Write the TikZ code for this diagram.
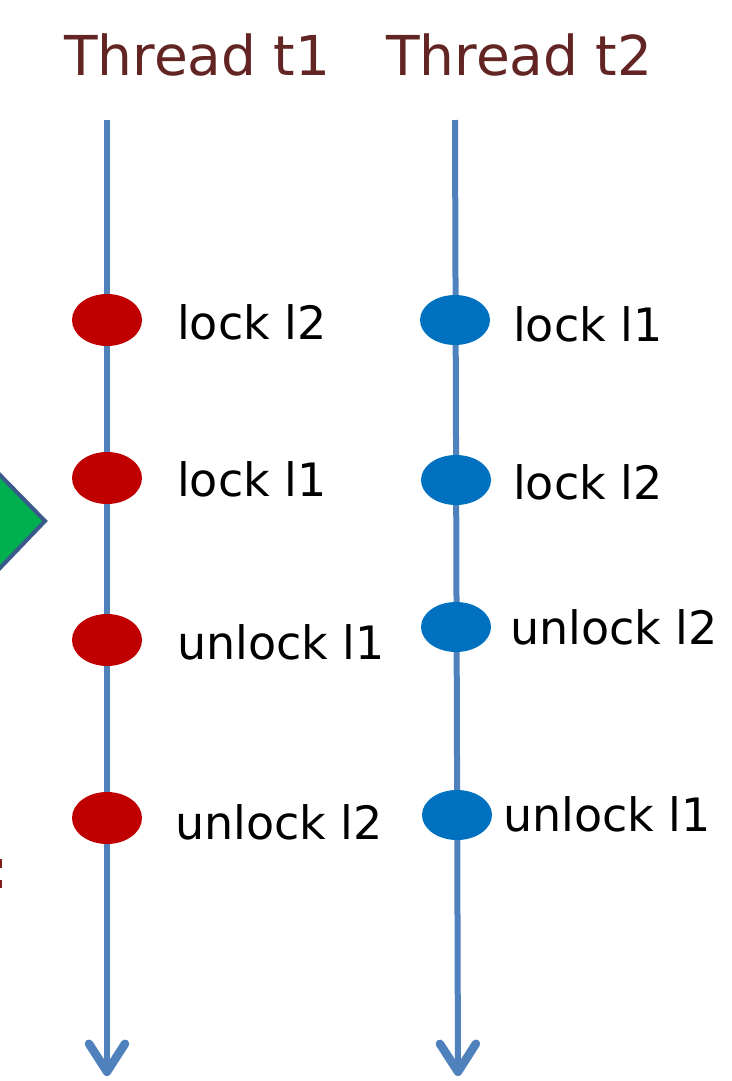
\documentclass[tikz,border=0pt]{standalone}
\usepackage{fontspec}
\setmainfont{DejaVu Sans}
\usetikzlibrary{shapes.geometric,arrows.meta}
\definecolor{axisblue}{HTML}{4F81BD}
\definecolor{dotred}{HTML}{C00000}
\definecolor{dotblue}{HTML}{0070C0}
\definecolor{titlered}{HTML}{632523}
\definecolor{diagreen}{HTML}{00B050}
\definecolor{diaborder}{HTML}{3A5A8C}
\tikzset{
  timeline/.style={draw=axisblue, line width=6pt, -{Straight Barb[length=28pt, width=36pt, line width=8.5pt, round]}},
  reddot/.style={ellipse, fill=dotred, minimum width=70pt, minimum height=52pt, inner sep=0pt},
  bluedot/.style={ellipse, fill=dotblue, minimum width=70pt, minimum height=50pt, inner sep=0pt},
  lbl/.style={anchor=base west, inner sep=0pt, font=\fontsize{46}{50}\selectfont},
  ttl/.style={anchor=base west, inner sep=0pt, text=titlered, font=\fontsize{55}{60}\selectfont},
}
\begin{document}
\begin{tikzpicture}[x=1pt,y=-1pt]
\useasboundingbox (0,0) rectangle (731,1081);
\clip (0,0) rectangle (731,1081);
% partial green diamond at left edge
\path[fill=diagreen, draw=diaborder, line width=4pt, line join=miter] (-50,521) -- (0,475) -- (45,521) -- (0,568) -- cycle;
% partial red fragment at left edge
\draw[titlered!80!red, line width=2.5pt] (0.5,859) -- (0.5,868) (0.5,880) -- (0.5,888);
% titles
\node[ttl] (t1) at (64,75) {Thread t1};
\node[ttl] (t2) at (386,75) {Thread t2};
% timelines
\coordinate (a1) at (107,120);
\coordinate (b1) at (107,1076);
\coordinate (a2) at (455,120);
\coordinate (b2) at (458,1076);
\draw[timeline] (a1) -- (b1);
\draw[timeline] (a2) -- (b2);
% thread 1 events
\node[reddot] (r1) at (107,320) {};
\node[reddot] (r2) at (107,478) {};
\node[reddot] (r3) at (107,640) {};
\node[reddot] (r4) at (107,818) {};
\node[lbl] (l1) at (177,339) {lock l2};
\node[lbl] (l2) at (177,496) {lock l1};
\node[lbl] (l3) at (177,659) {unlock l1};
\node[lbl] (l4) at (175,839) {unlock l2};
% thread 2 events
\node[bluedot] (s1) at (455,320) {};
\node[bluedot] (s2) at (456,480) {};
\node[bluedot] (s3) at (456,627) {};
\node[bluedot] (s4) at (457,815) {};
\node[lbl] (m1) at (513,341) {lock l1};
\node[lbl] (m2) at (513,499) {lock l2};
\node[lbl] (m3) at (510,644) {unlock l2};
\node[lbl] (m4) at (503,831) {unlock l1};
\end{tikzpicture}
\end{document}
